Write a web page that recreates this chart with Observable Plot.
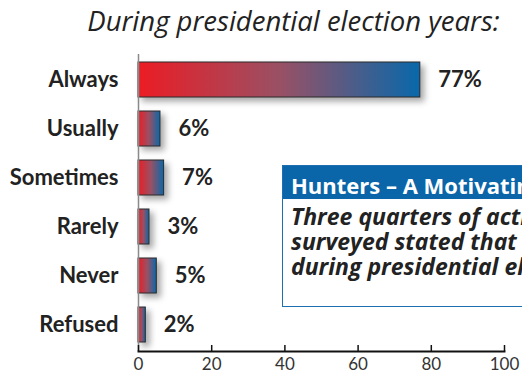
<!DOCTYPE html>
<html>
<head>
<meta charset="utf-8">
<script src="https://cdn.jsdelivr.net/npm/d3@7"></script>
<script src="https://cdn.jsdelivr.net/npm/@observablehq/plot@0.6"></script>
<style>
  html, body { margin: 0; padding: 0; background: #fff; overflow: hidden; }
  #wrap { position: relative; width: 522px; height: 375px; overflow: hidden; }
  #title { position: absolute; left: 0; width: 587px; top: 2px; text-align: center; line-height: normal;
    font-family: "Open Sans", sans-serif; font-style: italic; font-size: 27.5px; color: #222; white-space: nowrap; }
  #note { position: absolute; left: 282px; top: 165px; width: 320px; height: 142px;
    border: 1.5px solid #1d6fb0; background: #fff; box-sizing: border-box; }
  #note .hd { background: #0a66a8; color: #fff; height: 33px; box-sizing: border-box; padding: 4px 0 0 8px;
    font-family: "Open Sans", sans-serif; font-weight: 700; font-size: 22px; line-height: 30px; white-space: nowrap; }
  #note .bd { font-family: "Open Sans", sans-serif; font-weight: 700; font-style: italic; font-size: 23px;
    line-height: 25px; color: #222; padding: 5px 0 0 8px; white-space: nowrap; }
  g[aria-label="bar"] rect { filter: drop-shadow(4px 4px 3px rgba(0,0,0,0.35)); }
</style>
</head>
<body>
<div id="wrap">
  <div id="chart"></div>
  <div id="title"></div>
  <div id="note"><div class="hd"></div><div class="bd"></div></div>
</div>
<script>
const titleText = "During presidential election years:";
const categories = ["Always", "Usually", "Sometimes", "Rarely", "Never", "Refused"];
const values = [77, 6, 7, 3, 5, 2];
const xTicks = [0, 20, 40, 60, 80, 100];
const noteHeader = "Hunters \u2013 A Motivating Force";
const noteLines = ["Three quarters of active hunters", "surveyed stated that they always vote", "during presidential elections."];

const data = categories.map((c, i) => ({cat: c, value: values[i]}));

document.getElementById("title").textContent = titleText;
document.querySelector("#note .hd").textContent = noteHeader;
document.querySelector("#note .bd").innerHTML = noteLines.map(l => `<div>${l}</div>`).join("");

const defs = () => {
  const ns = "http://www.w3.org/2000/svg";
  const d = document.createElementNS(ns, "defs");
  const g = document.createElementNS(ns, "linearGradient");
  g.setAttribute("id", "barGrad");
  g.setAttribute("x1", "0"); g.setAttribute("x2", "1");
  g.setAttribute("y1", "0"); g.setAttribute("y2", "0");
  [["0", "#ec1c24"], ["0.5", "#9a5064"], ["1", "#0868aa"]].forEach(([o, c]) => {
    const s = document.createElementNS(ns, "stop");
    s.setAttribute("offset", o); s.setAttribute("stop-color", c);
    g.appendChild(s);
  });
  d.appendChild(g);
  return d;
};

const chart = Plot.plot({
  width: 522, height: 375,
  marginLeft: 138, marginRight: 18, marginTop: 54, marginBottom: 24,
  style: {fontFamily: "Lato, sans-serif", color: "#222", background: "transparent", overflow: "visible"},
  x: {domain: [0, 100]},
  y: {domain: categories, paddingInner: 0.28, paddingOuter: 0.12},
  marks: [
    defs,
    Plot.barX(data, {x: "value", y: "cat", fill: "url(#barGrad)", stroke: "#2a2a2a", strokeWidth: 1}),
    Plot.text(data, {x: "value", y: "cat", text: d => d.value + "%", textAnchor: "start", dx: 18,
      fontSize: 22, fontWeight: 700, fill: "#222"}),
    Plot.ruleX([0], {stroke: "#8a8a8a", strokeWidth: 1.5}),
    Plot.frame({anchor: "bottom", stroke: "#111", strokeWidth: 2}),
    Plot.axisY({tickSize: 0, tickPadding: 20, fontSize: 22, fontWeight: 700, label: null, fill: "#222"}),
    Plot.axisX(xTicks, {tickSize: -6, text: null, label: null, stroke: "#111", strokeWidth: 1.5}),
    Plot.axisX(xTicks, {tickSize: 0, tickPadding: 6, fontSize: 17, label: null, fill: "#333"})
  ]
});
document.getElementById("chart").appendChild(chart);
</script>
</body>
</html>
